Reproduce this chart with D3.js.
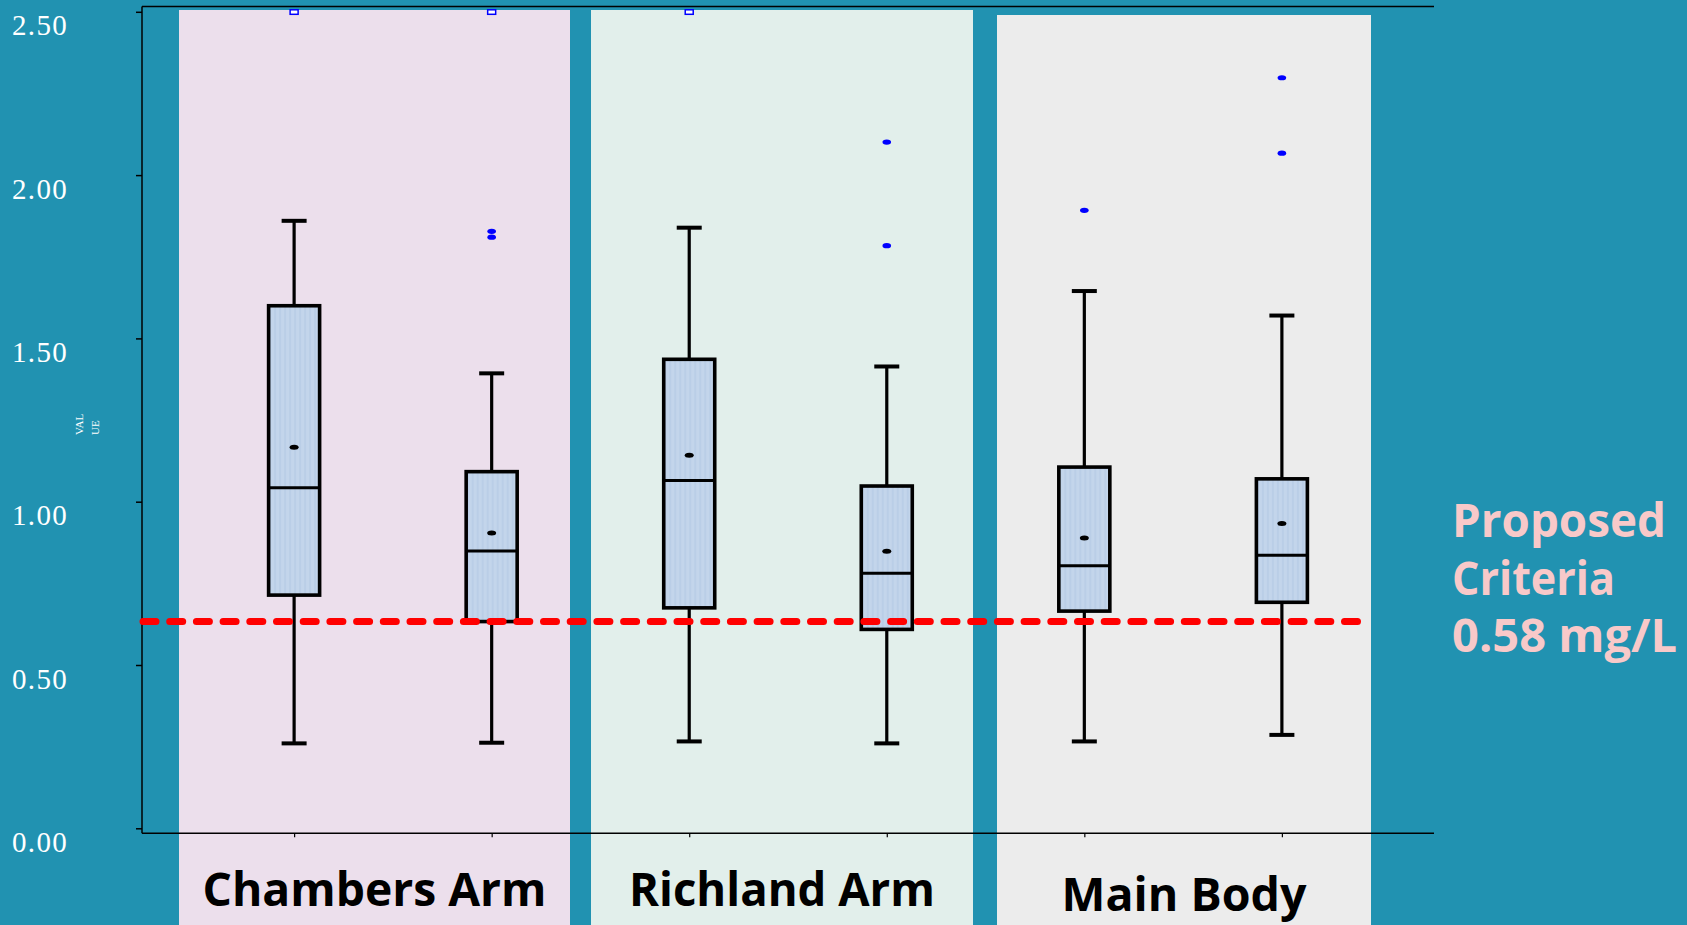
<!DOCTYPE html>
<html>
<head>
<meta charset="utf-8">
<script src="https://cdn.jsdelivr.net/npm/d3@7"></script>
<style>
  html, body { margin: 0; padding: 0; background: #2192b1; overflow: hidden; }
  svg { display: block; }
</style>
</head>
<body>
<script>
// box summary per sample group
const groups = ["CA-1", "CA-2", "RA-1", "RA-2", "MB-1", "MB-2"];
const whiskerLow  = [0.260, 0.262, 0.266, 0.260, 0.266, 0.286];
const q1          = [0.714, 0.633, 0.675, 0.609, 0.665, 0.692];
const median      = [1.043, 0.849, 1.065, 0.781, 0.804, 0.836];
const mean        = [1.167, 0.904, 1.142, 0.848, 0.889, 0.933];
const q3          = [1.600, 1.092, 1.436, 1.048, 1.106, 1.070];
const whiskerHigh = [1.860, 1.393, 1.839, 1.414, 1.645, 1.570];
const outliers    = [[], [1.828, 1.810], [], [2.101, 1.784], [1.892], [2.298, 2.067]];
// groups with a value past the top of the scale (drawn as an open square at 2.50)
const offScale    = [true, true, true, false, false, false];

const regions = ["Chambers Arm", "Richland Arm", "Main Body"];
const yTicks = [0, 0.5, 1, 1.5, 2, 2.5];
const criteriaLine = 0.633;   // where the dashed line sits on the axis
const criteriaText = ["Proposed", "Criteria", "0.58 mg/L"];

const width = 1687, height = 925;

const svg = d3.select("body").append("svg")
    .attr("width", width)
    .attr("height", height);

const defs = svg.append("defs");
const pat = defs.append("pattern")
    .attr("id", "stripes")
    .attr("patternUnits", "userSpaceOnUse")
    .attr("width", 5).attr("height", 10);
pat.append("rect").attr("width", 5).attr("height", 10).attr("fill", "#c3d5eb");
pat.append("rect").attr("width", 2).attr("height", 10).attr("fill", "#bacee7");

// region panels (behind the plot)
const panels = [
    {x0: 179, x1: 570, top: 10, fill: "#ecdfec", labelY: 906, w: 344},
    {x0: 591, x1: 973, top: 10, fill: "#e2efeb", labelY: 906, w: 306},
    {x0: 997, x1: 1371, top: 15, fill: "#ececec", labelY: 911, w: 245}
];

svg.append("g").selectAll("rect")
    .data(panels)
    .join("rect")
    .attr("x", d => d.x0)
    .attr("y", d => d.top)
    .attr("width", d => d.x1 - d.x0)
    .attr("height", d => height - d.top)
    .attr("fill", d => d.fill);

const plotLeft = 142, plotRight = 1434;

const x = d3.scalePoint()
    .domain(groups)
    .range([plotLeft, plotRight])
    .padding(0.77);

const y = d3.scaleLinear()
    .domain([0, 2.5])
    .range([828.3, 11.8]);

const frameTop = y(2.5) - 5.3, frameBottom = y(0) + 5;

// frame lines
const frame = svg.append("g").attr("stroke", "#000").attr("stroke-width", 1.5);
frame.append("line").attr("x1", plotLeft).attr("x2", plotRight).attr("y1", frameTop).attr("y2", frameTop);
frame.append("line").attr("x1", plotLeft).attr("x2", plotRight).attr("y1", frameBottom).attr("y2", frameBottom);
frame.append("line").attr("x1", plotLeft).attr("x2", plotLeft).attr("y1", frameTop).attr("y2", frameBottom);

// y axis ticks + labels
const yAxis = svg.append("g")
    .attr("transform", `translate(${plotLeft},0)`)
    .call(d3.axisLeft(y).tickValues(yTicks).tickSize(6).tickFormat(d3.format(".2f")));
yAxis.select(".domain").remove();
yAxis.selectAll(".tick line").attr("stroke", "#000").attr("stroke-width", 1.5);
yAxis.selectAll(".tick text")
    .attr("x", 68 - plotLeft)
    .attr("dy", null)
    .attr("y", 23)
    .attr("fill", "#fff")
    .attr("font-family", "'Liberation Serif', 'DejaVu Serif', serif")
    .attr("font-size", 29)
    .attr("letter-spacing", 1.3)
    .attr("text-anchor", "end");

// x ticks (no labels)
const xAxis = svg.append("g")
    .attr("transform", `translate(0,${frameBottom})`)
    .call(d3.axisBottom(x).tickSize(4).tickFormat(""));
xAxis.select(".domain").remove();
xAxis.selectAll(".tick line").attr("stroke", "#000").attr("stroke-width", 1.2);

// y axis title, broken in two short rotated pieces
const yt = svg.append("g")
    .attr("fill", "#fff")
    .attr("font-family", "'Liberation Serif', serif")
    .attr("font-size", 11);
yt.append("text").attr("transform", "translate(83,435) rotate(-90)").text("VAL");
yt.append("text").attr("transform", "translate(99,435) rotate(-90)").text("UE");

// boxes
const boxW = 51, capW = 25;
const boxes = groups.map((g, i) => ({
    g, lo: whiskerLow[i], q1: q1[i], med: median[i], mean: mean[i],
    q3: q3[i], hi: whiskerHigh[i], out: outliers[i], off: offScale[i]
}));

const bx = svg.append("g").selectAll("g")
    .data(boxes)
    .join("g")
    .attr("transform", d => `translate(${x(d.g)},0)`);

bx.append("line")
    .attr("y1", d => y(d.hi)).attr("y2", d => y(d.q3))
    .attr("stroke", "#000").attr("stroke-width", 3.2);
bx.append("line")
    .attr("y1", d => y(d.q1)).attr("y2", d => y(d.lo))
    .attr("stroke", "#000").attr("stroke-width", 3.2);
bx.append("line")
    .attr("x1", -capW / 2).attr("x2", capW / 2)
    .attr("y1", d => y(d.hi)).attr("y2", d => y(d.hi))
    .attr("stroke", "#000").attr("stroke-width", 4);
bx.append("line")
    .attr("x1", -capW / 2).attr("x2", capW / 2)
    .attr("y1", d => y(d.lo)).attr("y2", d => y(d.lo))
    .attr("stroke", "#000").attr("stroke-width", 4);
bx.append("rect")
    .attr("x", -boxW / 2)
    .attr("width", boxW)
    .attr("y", d => y(d.q3))
    .attr("height", d => y(d.q1) - y(d.q3))
    .attr("fill", "url(#stripes)")
    .attr("stroke", "#000").attr("stroke-width", 3.6);
bx.append("line")
    .attr("x1", -boxW / 2).attr("x2", boxW / 2)
    .attr("y1", d => y(d.med)).attr("y2", d => y(d.med))
    .attr("stroke", "#000").attr("stroke-width", 3);
bx.append("ellipse")
    .attr("cy", d => y(d.mean))
    .attr("rx", 4.5).attr("ry", 2.5)
    .attr("fill", "#000");
bx.selectAll("ellipse.out")
    .data(d => d.out)
    .join("ellipse")
    .attr("class", "out")
    .attr("cy", v => y(v))
    .attr("rx", 4.3).attr("ry", 2.6)
    .attr("fill", "#0000ff");
bx.filter(d => d.off)
    .append("rect")
    .attr("x", -4).attr("width", 8)
    .attr("y", y(2.5) - 2).attr("height", 4.5)
    .attr("fill", "#fff")
    .attr("stroke", "#0000ff").attr("stroke-width", 1.5);

// criteria dashed line
svg.append("line")
    .attr("x1", 143).attr("x2", 1368)
    .attr("y1", y(criteriaLine)).attr("y2", y(criteriaLine))
    .attr("stroke", "#ff0000")
    .attr("stroke-width", 7)
    .attr("stroke-linecap", "round")
    .attr("stroke-dasharray", "13 13.7");

// region labels
svg.append("g").selectAll("text")
    .data(panels)
    .join("text")
    .attr("x", d => (d.x0 + d.x1) / 2)
    .attr("y", d => d.labelY)
    .attr("text-anchor", "middle")
    .attr("font-family", "'Open Sans', 'DejaVu Sans', sans-serif")
    .attr("font-weight", "bold")
    .attr("font-size", 46)
    .attr("textLength", d => d.w)
    .attr("lengthAdjust", "spacingAndGlyphs")
    .attr("fill", "#000")
    .text((d, i) => regions[i]);

// criteria note
const noteW = [214, 163, 225];
svg.append("g").selectAll("text")
    .data(criteriaText)
    .join("text")
    .attr("x", 1452)
    .attr("y", (d, i) => 537 + i * 57.5)
    .attr("font-family", "'Open Sans', 'DejaVu Sans', sans-serif")
    .attr("font-weight", "bold")
    .attr("font-size", 46)
    .attr("textLength", (d, i) => noteW[i])
    .attr("lengthAdjust", "spacingAndGlyphs")
    .attr("fill", "#f8c9c9")
    .text(d => d);
</script>
</body>
</html>
